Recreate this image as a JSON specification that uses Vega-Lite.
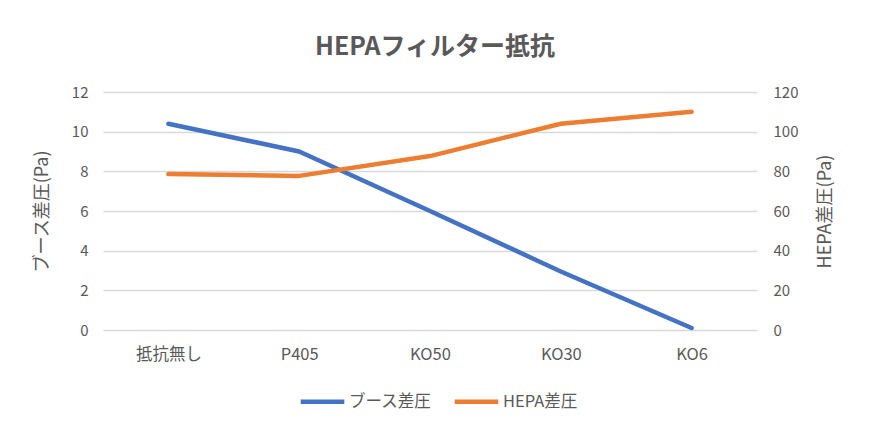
{
  "$schema": "https://vega.github.io/schema/vega-lite/v6.json",
  "autosize": "none",
  "width": 654,
  "height": 238,
  "padding": {"left": 103, "top": 92, "right": 113, "bottom": 106},
  "background": "white",
  "title": {
    "text": "HEPAフィルター抵抗",
    "anchor": "middle",
    "fontSize": 25,
    "fontWeight": "bold",
    "color": "#595959",
    "font": "Noto Sans CJK JP",
    "offset": 25,
    "dx": 5
  },
  "config": {
    "view": {"stroke": null},
    "font": "Noto Sans CJK JP",
    "axis": {
      "labelFont": "Noto Sans CJK JP",
      "titleFont": "Noto Sans CJK JP",
      "labelColor": "#595959",
      "titleColor": "#595959",
      "labelFontSize": 15,
      "titleFontSize": 18,
      "titleFontWeight": "normal",
      "domain": false,
      "ticks": false,
      "gridColor": "#d9d9d9",
      "gridWidth": 1.3
    },
    "legend": {
      "labelFont": "Noto Sans CJK JP",
      "labelFontSize": 16.5,
      "labelColor": "#595959"
    }
  },
  "data": {
    "values": [
      {"条件": "抵抗無し", "系列": "ブース差圧", "値": 10.4},
      {"条件": "P405", "系列": "ブース差圧", "値": 9.0},
      {"条件": "KO50", "系列": "ブース差圧", "値": 6.0},
      {"条件": "KO30", "系列": "ブース差圧", "値": 2.95},
      {"条件": "KO6", "系列": "ブース差圧", "値": 0.1},
      {"条件": "抵抗無し", "系列": "HEPA差圧", "値": 78.6},
      {"条件": "P405", "系列": "HEPA差圧", "値": 77.7},
      {"条件": "KO50", "系列": "HEPA差圧", "値": 87.7},
      {"条件": "KO30", "系列": "HEPA差圧", "値": 104},
      {"条件": "KO6", "系列": "HEPA差圧", "値": 110}
    ]
  },
  "encoding": {
    "x": {
      "field": "条件",
      "type": "nominal",
      "sort": null,
      "title": null,
      "scale": {"paddingInner": 0, "paddingOuter": 0.5},
      "axis": {"labelAngle": 0, "labelPadding": 16, "grid": false, "labelFontSize": 16.5}
    },
    "color": {
      "field": "系列",
      "type": "nominal",
      "scale": {"domain": ["ブース差圧", "HEPA差圧"], "range": ["#4472C4", "#ED7D31"]},
      "legend": {
        "title": null,
        "orient": "none",
        "direction": "horizontal",
        "legendX": 195,
        "legendY": 285,
        "symbolType": "stroke",
        "symbolSize": 1900,
        "symbolStrokeWidth": 4.5,
        "symbolOffset": 0,
        "columnPadding": 13,
        "labelOffset": 2
      }
    }
  },
  "layer": [
    {
      "transform": [{"filter": "datum['系列'] === 'ブース差圧'"}],
      "mark": {"type": "line", "strokeWidth": 4.5, "strokeCap": "round", "strokeJoin": "round"},
      "encoding": {
        "y": {
          "field": "値",
          "type": "quantitative",
          "scale": {"domain": [0, 12]},
          "axis": {
            "orient": "left",
            "values": [0, 2, 4, 6, 8, 10, 12],
            "labelPadding": 15,
            "title": "ブース差圧(Pa)",
            "titleAngle": -90,
            "titleX": -61,
            "titleY": 119,
            "titleAlign": "center",
            "titleBaseline": "middle"
          }
        }
      }
    },
    {
      "transform": [{"filter": "datum['系列'] === 'HEPA差圧'"}],
      "mark": {"type": "line", "strokeWidth": 4.5, "strokeCap": "round", "strokeJoin": "round"},
      "encoding": {
        "y": {
          "field": "値",
          "type": "quantitative",
          "scale": {"domain": [0, 120]},
          "axis": {
            "orient": "right",
            "grid": false,
            "values": [0, 20, 40, 60, 80, 100, 120],
            "labelPadding": 16,
            "title": "HEPA差圧(Pa)",
            "titleAngle": -90,
            "titleX": 68,
            "titleY": 119,
            "titleAlign": "center",
            "titleBaseline": "middle"
          }
        }
      }
    }
  ],
  "resolve": {"scale": {"y": "independent"}}
}
